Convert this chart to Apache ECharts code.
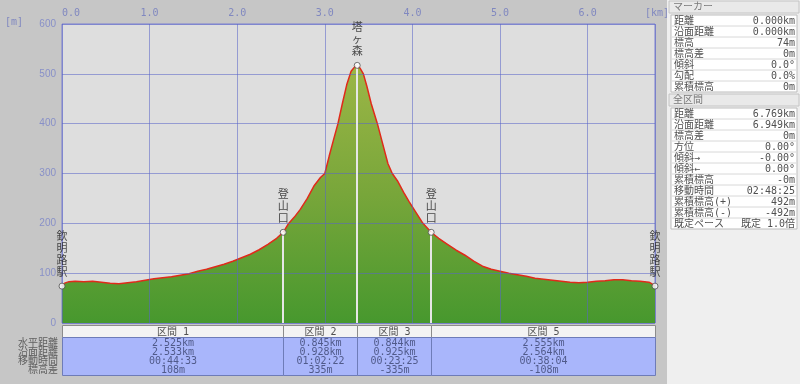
<!DOCTYPE html>
<html><head><meta charset="utf-8">
<script src="https://cdn.jsdelivr.net/npm/echarts@6/dist/echarts.min.js"></script>
<style>html,body{margin:0;padding:0;background:#c6c6c6}#c{width:800px;height:384px}</style>
</head><body><div id="c"></div>
<script>
// ---- profile data (km, m) ----
const dist = [0.00,0.03,0.08,0.15,0.25,0.35,0.45,0.55,0.65,0.75,0.85,0.95,1.05,1.15,1.25,1.35,1.45,1.55,1.65,1.75,1.85,1.95,2.05,2.15,2.25,2.35,2.45,2.525,2.58,2.65,2.72,2.80,2.88,2.95,3.00,3.05,3.10,3.15,3.20,3.25,3.30,3.35,3.37,3.40,3.44,3.48,3.53,3.60,3.66,3.72,3.77,3.83,3.90,3.96,4.04,4.12,4.214,4.30,4.40,4.50,4.60,4.70,4.80,4.90,5.00,5.10,5.20,5.30,5.40,5.50,5.60,5.70,5.80,5.90,6.00,6.10,6.20,6.30,6.40,6.50,6.60,6.70,6.74,6.769];
const elev = [74,80,83,84,83,84,82,80,79,81,83,86,89,91,93,96,99,104,108,113,118,124,131,138,147,158,170,182,198,212,228,250,276,292,300,335,368,400,440,478,505,516,517,512,500,475,440,400,360,320,300,285,262,244,222,200,182,170,158,146,136,124,114,108,104,100,97,94,90,88,86,84,82,81,82,84,85,87,87,85,84,82,78,74];

// ---- markers ----
const markerDist = [0, 2.525, 3.370, 4.214, 6.769];
const markerElev = [74, 182, 517, 182, 74];
const markerNames = ['欽明路駅', '登山口', '塔ヶ森', '登山口', '欽明路駅'];

// ---- section table ----
const segStart = [0, 2.525, 3.370, 4.214];
const segEnd = [2.525, 3.370, 4.214, 6.769];
const segNames = ['区間 1', '区間 2', '区間 3', '区間 5'];
const segHoriz = ['2.525km', '0.845km', '0.844km', '2.555km'];
const segSurface = ['2.533km', '0.928km', '0.925km', '2.564km'];
const segTime = ['00:44:33', '01:02:22', '00:23:25', '00:38:04'];
const segDiff = ['108m', '335m', '-335m', '-108m'];
const tableRowLabels = ['水平距離', '沿面距離', '移動時間', '標高差'];

// ---- side panel ----
const markerTitle = 'マーカー';
const markerLabels = ['距離', '沿面距離', '標高', '標高差', '傾斜', '勾配', '累積標高'];
const markerValues = ['0.000km', '0.000km', '74m', '0m', '0.0°', '0.0%', '0m'];
const totalTitle = '全区間';
const totalLabels = ['距離', '沿面距離', '標高差', '方位', '傾斜→', '傾斜←', '累積標高', '移動時間', '累積標高(+)', '累積標高(-)', '既定ペース'];
const totalValues = ['6.769km', '6.949km', '0m', '0.00°', '-0.00°', '0.00°', '-0m', '02:48:25', '492m', '-492m', '既定 1.0倍'];

const MONO = "'DejaVu Sans Mono','Noto Sans CJK JP',monospace";
const chart = echarts.init(document.getElementById('c'), null, {renderer: 'canvas'});

const profile = dist.map((d, i) => [d, elev[i]]);

function panelGraphics() {
  const g = [];
  g.push({type: 'rect', shape: {x: 667, y: 0, width: 133, height: 384}, style: {fill: '#efefef'}, silent: true});
  function section(title, labels, values, top) {
    g.push({type: 'rect', shape: {x: 669, y: top, width: 130, height: 12}, style: {fill: '#e9e9e9', stroke: '#c4c4c4', lineWidth: 1}});
    g.push({type: 'text', style: {text: title, x: 673, y: top + 6, verticalAlign: 'middle', font: '10px ' + MONO, fill: '#7a7a7a'}});
    const bt = top + 14;
    g.push({type: 'rect', shape: {x: 671, y: bt, width: 126, height: labels.length * 11}, style: {fill: '#ffffff', stroke: '#bdbdbd', lineWidth: 1}});
    labels.forEach((l, i) => {
      const y = bt + i * 11;
      if (i > 0) g.push({type: 'line', shape: {x1: 672, y1: y, x2: 796, y2: y}, style: {stroke: '#d8d8d8', lineWidth: 1}});
      g.push({type: 'text', style: {text: l, x: 674, y: y + 6, verticalAlign: 'middle', font: '10px ' + MONO, fill: '#505050'}});
      g.push({type: 'text', style: {text: values[i], x: 795, y: y + 6, align: 'right', verticalAlign: 'middle', font: '10px ' + MONO, fill: '#505050'}});
    });
  }
  section(markerTitle, markerLabels, markerValues, 1);
  section(totalTitle, totalLabels, totalValues, 94);
  g.push({type: 'text', style: {text: '[m]', x: 5, y: 22, verticalAlign: 'middle', font: '10px ' + MONO, fill: '#8088c0'}});
  g.push({type: 'text', style: {text: '[km]', x: 657, y: 13, align: 'center', verticalAlign: 'middle', font: '10px ' + MONO, fill: '#8088c0'}});
  tableRowLabels.forEach((t, i) => {
    g.push({type: 'text', style: {text: t, x: 58, y: 343 + i * 9, align: 'right', verticalAlign: 'middle', font: '10px ' + MONO, fill: '#606060'}});
  });
  return g;
}

chart.setOption({
  backgroundColor: '#c6c6c6',
  animation: false,
  grid: {left: 62, top: 24, width: 593, height: 299, show: true, backgroundColor: '#dedede', borderColor: '#7c80d0', borderWidth: 1},
  xAxis: {
    type: 'value', position: 'top', min: 0, max: 6.769, interval: 1, z: 5,
    axisLine: {show: false}, axisTick: {show: false},
    axisLabel: {color: '#8088c0', fontSize: 10, fontFamily: MONO, margin: 6, showMaxLabel: false,
      formatter: v => v.toFixed(1), alignMinLabel: 'left'},
    splitLine: {show: true, lineStyle: {color: 'rgba(90,100,200,0.55)', width: 1}}
  },
  yAxis: {
    type: 'value', min: 0, max: 600, interval: 100, z: 5,
    axisLine: {show: false}, axisTick: {show: false},
    axisLabel: {color: '#8890c8', fontSize: 10, fontFamily: "'Liberation Sans',sans-serif", margin: 6},
    splitLine: {show: true, lineStyle: {color: 'rgba(90,100,200,0.55)', width: 1}}
  },
  graphic: panelGraphics(),
  series: [
    {
      type: 'line', data: profile, symbol: 'none', z: 3,
      lineStyle: {color: '#e02a1a', width: 1.5},
      areaStyle: {opacity: 1, color: new echarts.graphic.LinearGradient(0, 0, 0, 1, [
        {offset: 0, color: '#9cb646'}, {offset: 0.5, color: '#78a63a'}, {offset: 1, color: '#47982e'}])},
      markLine: {
        silent: true, symbol: 'none', z: 6,
        lineStyle: {color: '#e6e6e6', width: 2, type: 'solid'},
        label: {show: false},
        data: markerDist.slice(1, 4).map((d, i) => [{coord: [d, markerElev[i + 1]]}, {coord: [d, 0]}])
      }
    },
    {
      type: 'scatter', z: 8,
      data: markerDist.map((d, i) => [d, markerElev[i]]),
      symbol: 'circle', symbolSize: 6, clip: false,
      itemStyle: {color: '#ffffff', borderColor: '#505050', borderWidth: 1},
      label: {
        show: true, position: 'top', distance: 5,
        formatter: p => markerNames[p.dataIndex].split('').join('\n'),
        fontSize: 11, lineHeight: 12, color: '#202020', fontFamily: "'Noto Sans CJK JP',sans-serif"
      }
    },
    {
      type: 'custom', clip: false, silent: true, z: 10,
      data: segStart.map((s, i) => [s, segEnd[i], i]),
      encode: {x: [0, 1]},
      renderItem: function (params, api) {
        const i = api.value(2);
        const p0 = api.coord([api.value(0), 0]);
        const p1 = api.coord([api.value(1), 0]);
        const x0 = Math.round(p0[0]) + 0.5, x1 = Math.round(p1[0]) + 0.5, y = Math.round(p0[1]);
        const w = x1 - x0;
        return {type: 'group', children: [
          {type: 'rect', shape: {x: x0, y: y + 2.5, width: w, height: 12}, style: {fill: '#f3f3f3', stroke: '#8c8c8c', lineWidth: 1}},
          {type: 'text', style: {text: segNames[i], x: (x0 + x1) / 2, y: y + 9, align: 'center', verticalAlign: 'middle', font: '10px ' + MONO, fill: '#505050'}},
          {type: 'rect', shape: {x: x0, y: y + 14.5, width: w, height: 38}, style: {fill: '#a9b6fb', stroke: '#6e7cb8', lineWidth: 1}},
          {type: 'text', style: {text: [segHoriz[i], segSurface[i], segTime[i], segDiff[i]].join('\n'), x: (x0 + x1) / 2, y: y + 15.5, align: 'center', verticalAlign: 'top', lineHeight: 9, font: '10px ' + MONO, fill: '#505a8a'}}
        ]};
      }
    }
  ]
});
</script></body></html>
